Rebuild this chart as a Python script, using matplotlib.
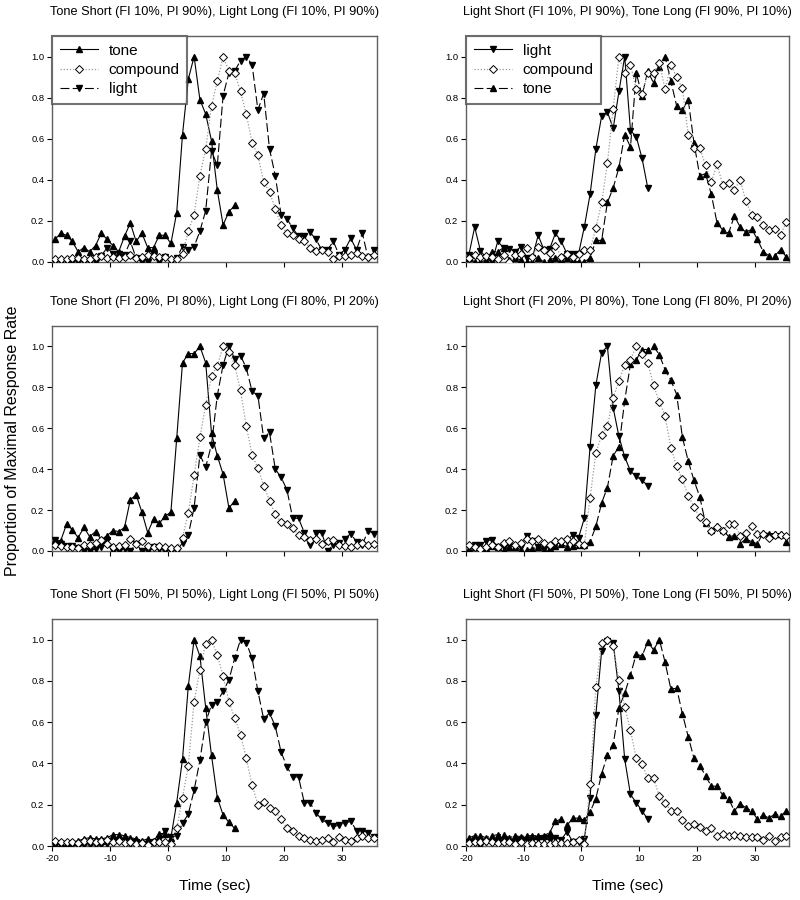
import numpy as np
import matplotlib
matplotlib.use("Agg")
import matplotlib.pyplot as plt

plt.rcParams['font.family'] = ['Liberation Sans', 'DejaVu Sans']
plt.rcParams['axes.unicode_minus'] = False

# time bins (sec), bin centres
time_long = np.arange(-19.5, 36.0, 1.0)      # 56 bins
time_short = time_long[:32]                   # up to 11.5 s

titles = [
    "Tone Short (FI 10%, PI 90%), Light Long (FI 10%, PI 90%)",
    "Light Short (FI 10%, PI 90%), Tone Long (FI 90%, PI 10%)",
    "Tone Short (FI 20%, PI 80%), Light Long (FI 80%, PI 20%)",
    "Light Short (FI 20%, PI 80%), Tone Long (FI 80%, PI 20%)",
    "Tone Short (FI 50%, PI 50%), Light Long (FI 50%, PI 50%)",
    "Light Short (FI 50%, PI 50%), Tone Long (FI 50%, PI 50%)",
]

# ---------------- Panel 1 ----------------
p1_tone_short = [0.11, 0.14, 0.13, 0.10, 0.05, 0.07, 0.05, 0.08, 0.14, 0.11, 0.08, 0.05, 0.125, 0.19, 0.10, 0.14,
                 0.07, 0.07, 0.13, 0.13, 0.09, 0.24, 0.62, 0.89, 1.0, 0.79, 0.72, 0.59, 0.35, 0.18, 0.245, 0.275]
p1_compound = [0.015, 0.015, 0.015, 0.02, 0.02, 0.015, 0.015, 0.025, 0.03, 0.02, 0.025, 0.02, 0.025, 0.035, 0.02,
               0.025, 0.035, 0.03, 0.025, 0.025, 0.015, 0.015, 0.04,
               0.15, 0.23, 0.42, 0.55, 0.76, 0.88, 1.0, 0.93, 0.92, 0.83, 0.72, 0.58, 0.52, 0.39, 0.34, 0.26, 0.18,
               0.14, 0.13, 0.11, 0.10, 0.07, 0.055, 0.06, 0.05, 0.015, 0.03, 0.03, 0.035, 0.045, 0.03, 0.025, 0.035]
p1_light_long = [0, 0, 0, 0, 0, 0, 0, 0, 0.03, 0.07, 0.04, 0.04, 0.035, 0.10, 0.02, 0, 0, 0.035, 0, 0.025, 0,
                 0.02, 0.075, 0.06, 0.075, 0.15, 0.25, 0.54, 0.47, 0.81, 0.92, 0.93, 0.98, 1.0, 0.96, 0.74, 0.82,
                 0.55, 0.42, 0.23, 0.21, 0.165, 0.125, 0.125, 0.145, 0.11, 0.06, 0.06, 0.10, 0.035, 0.06, 0.115,
                 0.06, 0.14, 0.02, 0.06]

# ---------------- Panel 2 ----------------
p2_light_short = [0.035, 0.17, 0.055, 0.02, 0.0, 0.10, 0.07, 0.065, 0.05, 0.075, 0.02, 0.02, 0.13, 0.06, 0.065,
                  0.14, 0.10, 0.04, 0.04, 0.04, 0.17, 0.33, 0.55, 0.71, 0.73, 0.65, 0.83, 1.0, 0.64, 0.61, 0.505, 0.36]
p2_compound = [0.02, 0.035, 0.025, 0.03, 0.025, 0.015, 0.035, 0.0, 0.035, 0.04, 0.07, 0.025, 0.075, 0.06, 0.045,
               0.08, 0.025, 0.04, 0.025, 0.04, 0.06, 0.06,
               0.165, 0.29, 0.48, 0.745, 1.0, 0.92, 0.96, 0.84, 0.82, 0.92, 0.92, 0.97, 0.84, 0.96, 0.90, 0.845,
               0.62, 0.555, 0.555, 0.47, 0.39, 0.475, 0.375, 0.385, 0.35, 0.40, 0.295, 0.23, 0.22, 0.18, 0.155,
               0.16, 0.13, 0.195]
p2_tone_long = [0.02, 0.0, 0.0, 0.01, 0.05, 0.05, 0.07, 0.01, 0.02, 0.01, 0.0, 0.0, 0.02, 0.0, 0.01, 0.02, 0.01,
                0.02, 0.01, 0.0, 0.0, 0.02, 0.105, 0.105, 0.29, 0.36, 0.46, 0.62, 0.56, 0.92, 0.81, 0.93, 0.87,
                0.95, 1.0, 0.88, 0.76, 0.74, 0.79, 0.58, 0.42, 0.43, 0.33, 0.19, 0.155, 0.14, 0.225, 0.17, 0.145,
                0.16, 0.11, 0.05, 0.03, 0.03, 0.06, 0.025]

# ---------------- Panel 3 ----------------
p3_tone_short = [0.055, 0.05, 0.13, 0.105, 0.065, 0.115, 0.07, 0.095, 0.055, 0.075, 0.10, 0.095, 0.115, 0.25,
                 0.275, 0.19, 0.09, 0.155, 0.135, 0.17, 0.19, 0.55, 0.92, 0.965, 0.965, 1.0, 0.92, 0.575, 0.465,
                 0.375, 0.21, 0.245]
p3_compound = [0.03, 0.025, 0.02, 0.02, 0.015, 0.03, 0.03, 0.04, 0.055, 0.035, 0.02, 0.025, 0.03, 0.06, 0.035,
               0.05, 0.025, 0.02, 0.025, 0.02, 0.015, 0.015,
               0.065, 0.185, 0.37, 0.555, 0.715, 0.855, 0.905, 1.0, 0.975, 0.91, 0.785, 0.61, 0.47, 0.405, 0.32,
               0.245, 0.18, 0.14, 0.13, 0.11, 0.08, 0.07, 0.055, 0.06, 0.035, 0.05, 0.055, 0.03, 0.025, 0.02,
               0.03, 0.04, 0.03, 0.035]
p3_light_long = [0.055, 0.035, 0.025, 0.025, 0.015, 0.0, 0.0, 0.01, 0.02, 0.055, 0.0, 0.0, 0.01, 0.0, 0.035, 0.0,
                 0.0, 0.02, 0.01, 0.0, 0.0, 0.0,
                 0.04, 0.08, 0.21, 0.47, 0.41, 0.52, 0.76, 0.91, 1.0, 0.94, 0.955, 0.895, 0.78, 0.76, 0.55, 0.58,
                 0.40, 0.36, 0.30, 0.16, 0.16, 0.09, 0.03, 0.09, 0.09, 0.0, 0.03, 0.04, 0.06, 0.085, 0.045, 0.03,
                 0.10, 0.085]

# ---------------- Panel 4 ----------------
p4_light_short = [0.02, 0.03, 0.03, 0.05, 0.055, 0.02, 0.02, 0.03, 0.02, 0.02, 0.075, 0.05, 0.02, 0.01, 0.02,
                  0.035, 0.04, 0.05, 0.08, 0.065, 0.16, 0.51, 0.81, 0.97, 1.0, 0.70, 0.56, 0.46, 0.39, 0.365,
                  0.345, 0.32]
p4_compound = [0.03, 0.02, 0.01, 0.02, 0.03, 0.02, 0.04, 0.05, 0.03, 0.04, 0.06, 0.05, 0.06, 0.04, 0.03, 0.05,
               0.05, 0.06, 0.05, 0.035,
               0.03, 0.26, 0.48, 0.565, 0.61, 0.75, 0.83, 0.91, 0.935, 1.0, 0.965, 0.92, 0.81, 0.73, 0.66, 0.505,
               0.415, 0.35, 0.27, 0.215, 0.165, 0.14, 0.10, 0.115, 0.10, 0.13, 0.13, 0.075, 0.09, 0.12, 0.085,
               0.085, 0.065, 0.08, 0.08, 0.075]
p4_tone_long = [0.01, 0.02, 0.02, 0.015, 0.025, 0.02, 0.005, 0.02, 0.02, 0.005, 0.005, 0.01, 0.02, 0.005, 0.015,
                0.025, 0.035, 0.02, 0.025, 0.03, 0.03,
                0.045, 0.12, 0.235, 0.31, 0.465, 0.51, 0.735, 0.915, 0.935, 0.985, 0.985, 1.0, 0.96, 0.885, 0.835,
                0.765, 0.555, 0.44, 0.345, 0.265, 0.135, 0.105, 0.12, 0.105, 0.07, 0.075, 0.035, 0.06, 0.045,
                0.035, 0.09, 0.085, 0.085, 0.085, 0.045]

# ---------------- Panel 5 ----------------
p5_tone_short = [0.01, 0.01, 0.015, 0.02, 0.025, 0.035, 0.04, 0.035, 0.035, 0.04, 0.055, 0.055, 0.05, 0.04,
                 0.035, 0.025, 0.035, 0.025, 0.06, 0.06, 0.04, 0.21, 0.42, 0.775, 1.0, 0.92, 0.67, 0.44, 0.235,
                 0.15, 0.115, 0.085]
p5_compound = [0.025, 0.02, 0.02, 0.02, 0.015, 0.025, 0.025, 0.02, 0.025, 0.03, 0.02, 0.025, 0.015, 0.02, 0.01,
               0.015, 0.005, 0.02, 0.02, 0.02, 0.01,
               0.085, 0.235, 0.39, 0.70, 0.855, 0.98, 1.0, 0.925, 0.825, 0.70, 0.62, 0.54, 0.425, 0.295, 0.20,
               0.215, 0.185, 0.17, 0.13, 0.085, 0.075, 0.05, 0.04, 0.03, 0.025, 0.03, 0.04, 0.02, 0.045, 0.03,
               0.025, 0.04, 0.05, 0.04, 0.04]
p5_light_long = [0.005, 0.01, 0.01, 0.005, 0.0, 0.005, 0.005, 0.005, 0.005, 0.01, 0.02, 0.025, 0.01, 0.01, 0.02,
                 0.01, 0.01, 0.02, 0.035, 0.075, 0.045,
                 0.05, 0.11, 0.155, 0.27, 0.415, 0.60, 0.685, 0.70, 0.75, 0.805, 0.91, 1.0, 0.985, 0.91, 0.75,
                 0.615, 0.645, 0.58, 0.455, 0.385, 0.335, 0.335, 0.21, 0.21, 0.16, 0.13, 0.11, 0.095, 0.10, 0.11,
                 0.12, 0.075, 0.075, 0.065, 0.045]

# ---------------- Panel 6 ----------------
p6_light_short = [0.02, 0.03, 0.0, 0.02, 0.02, 0.02, 0.03, 0.02, 0.02, 0.03, 0.03, 0.03, 0.035, 0.04, 0.03,
                  0.04, 0.03, 0.07, 0.02, 0.02, 0.035, 0.235, 0.635, 0.945, 0.995, 0.985, 0.75, 0.42, 0.25, 0.21,
                  0.17, 0.13]
p6_compound = [0.015, 0.02, 0.02, 0.025, 0.02, 0.015, 0.02, 0.02, 0.01, 0.02, 0.01, 0.015, 0.01, 0.01, 0.01,
               0.015, 0.015, 0.015, 0.02, 0.03, 0.01,
               0.30, 0.77, 0.985, 1.0, 0.97, 0.805, 0.675, 0.56, 0.425, 0.395, 0.33, 0.33, 0.24, 0.21, 0.17,
               0.17, 0.125, 0.095, 0.105, 0.09, 0.075, 0.085, 0.05, 0.06, 0.05, 0.055, 0.05, 0.045, 0.045, 0.045,
               0.03, 0.05, 0.025, 0.045, 0.05]
p6_tone_long = [0.04, 0.05, 0.05, 0.04, 0.05, 0.055, 0.055, 0.04, 0.05, 0.045, 0.05, 0.05, 0.05, 0.05, 0.065,
                0.12, 0.13, 0.10, 0.135, 0.135,
                0.125, 0.165, 0.23, 0.35, 0.44, 0.49, 0.67, 0.74, 0.83, 0.93, 0.92, 0.99, 0.95, 1.0, 0.89, 0.76,
                0.765, 0.64, 0.53, 0.425, 0.39, 0.34, 0.29, 0.29, 0.245, 0.23, 0.17, 0.205, 0.185, 0.17, 0.13,
                0.15, 0.135, 0.155, 0.145, 0.17]

panels = [
    ("tone", p1_tone_short, p1_compound, "light", p1_light_long),
    ("light", p2_light_short, p2_compound, "tone", p2_tone_long),
    ("tone", p3_tone_short, p3_compound, "light", p3_light_long),
    ("light", p4_light_short, p4_compound, "tone", p4_tone_long),
    ("tone", p5_tone_short, p5_compound, "light", p5_light_long),
    ("light", p6_light_short, p6_compound, "tone", p6_tone_long),
]

marker_for = {"tone": "^", "light": "v"}

fig = plt.figure(figsize=(8, 9), dpi=100)

col_x = [0.065, 0.5825]
col_w = [0.406, 0.404]
row_y = [0.7089, 0.3878, 0.06]
row_h = [0.2511, 0.25, 0.2522]

spine_col = "#606060"

for k, (sname, sdat, cdat, lname, ldat) in enumerate(panels):
    r, c = divmod(k, 2)
    ax = fig.add_axes([col_x[c], row_y[r], col_w[c], row_h[r]])
    ax.plot(time_short, sdat, color="black", lw=0.8, ls="-",
            marker=marker_for[sname], ms=4.8, mfc="black", mec="black", label=sname, zorder=3)
    ax.plot(time_long, cdat, color="#9a9a9a", lw=0.9, ls=(0, (1, 1.5)),
            marker="D", ms=3.9, mfc="white", mec="black", mew=0.7, label="compound", zorder=4)
    ax.plot(time_long, ldat, color="black", lw=0.8, ls=(0, (8, 3)),
            marker=marker_for[lname], ms=4.8, mfc="black", mec="black", label=lname, zorder=3)

    ax.set_xlim(-20, 36)
    ax.set_ylim(0, 1.1)
    ax.set_xticks([-20, -10, 0, 10, 20, 30])
    ax.set_yticks([0.0, 0.2, 0.4, 0.6, 0.8, 1.0])
    ax.set_yticklabels(["%.1f" % v for v in [0.0, 0.2, 0.4, 0.6, 0.8, 1.0]])
    ax.tick_params(direction="out", length=3.5, width=0.8, labelsize=6.8, colors="black", pad=2)
    if r < 2:
        ax.set_xticklabels([])
    else:
        ax.set_xlabel("Time (sec)", fontsize=11, labelpad=12)
    for sp in ax.spines.values():
        sp.set_color(spine_col)
        sp.set_linewidth(1.0)
    ax.set_title(titles[k], fontsize=9.2, pad=15)

    if r == 0:
        leg = ax.legend(loc="upper left", fontsize=11, frameon=True, fancybox=False,
                        borderaxespad=0.0, handlelength=2.5, handletextpad=0.7,
                        labelspacing=0.35, borderpad=0.5)
        leg.get_frame().set_edgecolor("#505050")
        leg.get_frame().set_linewidth(1.5)

fig.text(0.016, 0.51, "Proportion of Maximal Response Rate", rotation=90,
         va="center", ha="center", fontsize=11.5)

fig.savefig("out.png", dpi=100)
